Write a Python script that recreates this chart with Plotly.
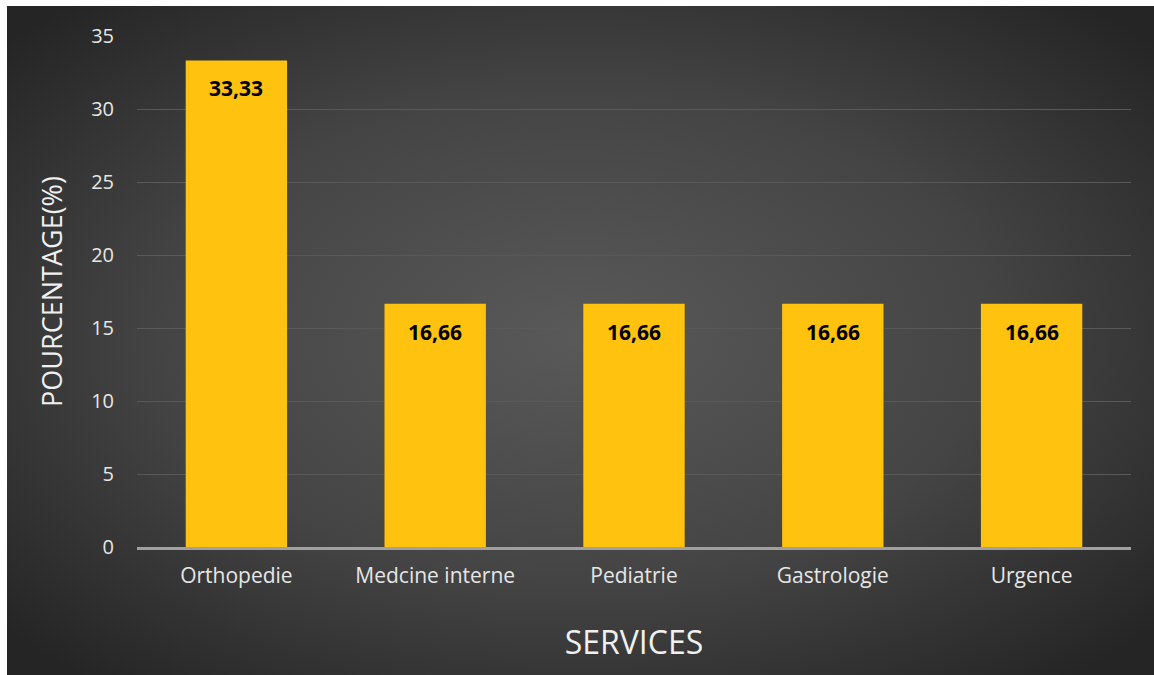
import plotly.graph_objects as go
import urllib.parse

categories = ["Orthopedie", "Medcine interne", "Pediatrie", "Gastrologie", "Urgence"]
values = [33.33, 16.66, 16.66, 16.66, 16.66]
value_labels = ["33,33", "16,66", "16,66", "16,66", "16,66"]
y_ticks = [0, 5, 10, 15, 20, 25, 30, 35]

FONT = "Open Sans"
W, H = 1154, 675
L, R, T, B = 137, 23, 36, 128
pw, ph = W - L - R, H - T - B

svg = (
    '<svg xmlns="http://www.w3.org/2000/svg" width="1167" height="689" preserveAspectRatio="none">'
    '<defs><radialGradient id="g" cx="49%" cy="48%" r="65%">'
    '<stop offset="0" stop-color="#595959"/>'
    '<stop offset="0.55" stop-color="#444444"/>'
    '<stop offset="1" stop-color="#252525"/>'
    '</radialGradient></defs>'
    '<rect width="1167" height="689" fill="url(#g)"/></svg>'
)
bg_src = "data:image/svg+xml;charset=utf-8," + urllib.parse.quote(svg)

fig = go.Figure()
fig.add_trace(go.Bar(
    x=categories, y=values,
    marker=dict(color="#FFC20E", line=dict(width=0)),
    width=0.51,
    hoverinfo="x+y",
))

for c, v, lab in zip(categories, values, value_labels):
    fig.add_annotation(
        x=c, y=v, text="<b>" + lab + "</b>", showarrow=False,
        yanchor="middle", yshift=-28,
        font=dict(family=FONT, size=21, color="#000000"),
    )

fig.add_layout_image(
    source=bg_src, xref="paper", yref="paper",
    x=(7 - L) / pw, y=(H - B - 6) / ph,
    sizex=(W - 7 + 20) / pw, sizey=(H - 6 + 20) / ph,
    xanchor="left", yanchor="top", sizing="stretch", layer="below",
)

fig.update_layout(
    width=W, height=H,
    margin=dict(l=L, r=R, t=T, b=B, pad=0),
    paper_bgcolor="#ffffff",
    plot_bgcolor="rgba(0,0,0,0)",
    showlegend=False,
    bargap=0.49,
    font=dict(family=FONT, color="#e6e6e6"),
    xaxis=dict(
        showgrid=False, showline=True, linecolor="#a0a0a0", linewidth=2.5,
        ticks="", tickfont=dict(size=21, color="#e6e6e6"),
        ticklabelstandoff=8,
        title=dict(text="SERVICES", font=dict(size=32, color="#f0f0f0"), standoff=44),
        fixedrange=True,
    ),
    yaxis=dict(
        range=[0, 35], tickvals=y_ticks, showgrid=True, gridcolor="#595959", gridwidth=1,
        zeroline=False, showline=False, ticks="",
        tickfont=dict(size=20, color="#e6e6e6"), ticklabelstandoff=22,
        title=dict(text="POURCENTAGE(%)", font=dict(size=27, color="#f0f0f0"), standoff=20),
        fixedrange=True,
    ),
)

fig.write_html("out.html")
